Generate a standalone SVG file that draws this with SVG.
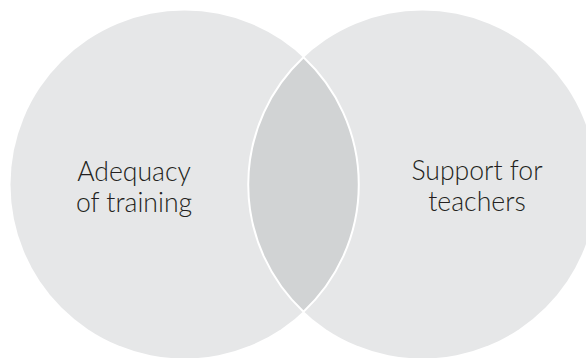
<svg xmlns="http://www.w3.org/2000/svg" width="586" height="358" viewBox="0 0 586 358">
<style>
.circ{fill:#e6e7e8;}
.lens{fill:#d1d3d4;stroke:#ffffff;stroke-width:2;}
.lbl{font-family:Lato,"Open Sans","Liberation Sans",sans-serif;font-weight:300;font-size:26.6px;fill:#231f20;text-anchor:middle;}
</style>
<rect width="586" height="358" fill="#ffffff"/>
<g id="left-set">
<circle class="circ" cx="184.5" cy="184.5" r="174"/>
</g>
<g id="right-set">
<circle class="circ" cx="422.5" cy="184.5" r="174"/>
</g>
<g id="overlap">
<path class="lens" d="M303.5,57.3 A174,174 0 0 1 303.5,311.7 A174,174 0 0 1 303.5,57.3 Z"/>
</g>
<g id="connectors"></g>
<g id="label-left">
<text class="lbl" x="134" y="181">Adequacy</text>
<text class="lbl" x="134" y="211.5">of training</text>
</g>
<g id="label-right">
<text class="lbl" x="477" y="180">Support for</text>
<text class="lbl" x="477" y="211">teachers</text>
</g>
</svg>
